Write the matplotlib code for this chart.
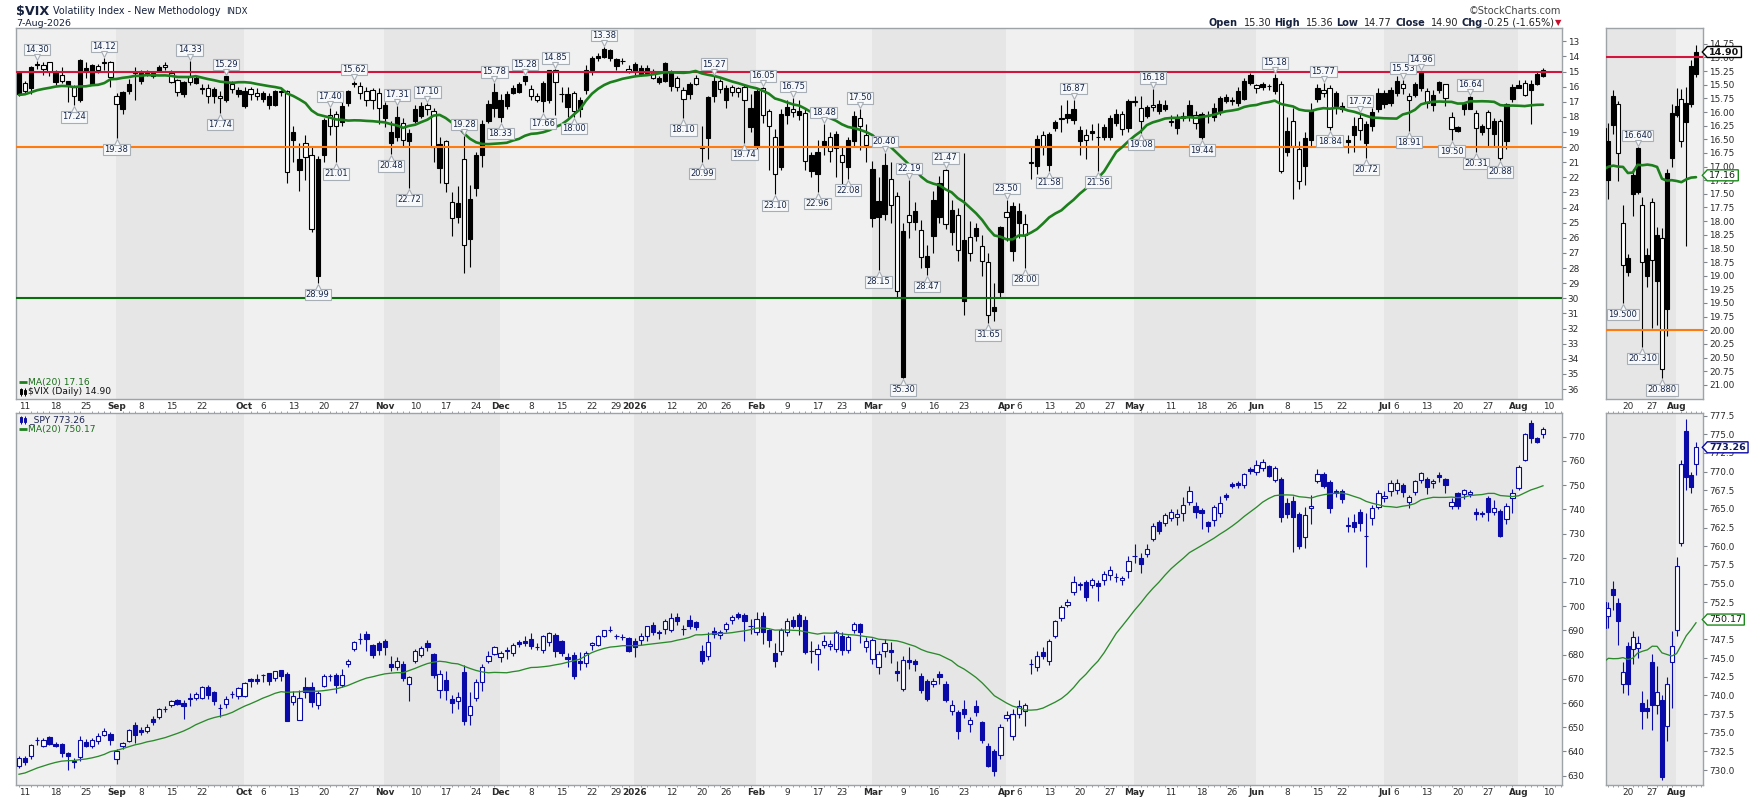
import numpy as np
import pandas as pd
import matplotlib
matplotlib.use('Agg')
import matplotlib.pyplot as plt
from matplotlib.patches import Rectangle, Polygon
from matplotlib.lines import Line2D
from matplotlib.transforms import offset_copy, IdentityTransform

plt.rcParams['font.family'] = 'DejaVu Sans'

# market holidays inside the window (bars are trading days only)
holidays = ['2025-09-01', '2025-11-27', '2025-12-25', '2026-01-01', '2026-01-19',
            '2026-02-16', '2026-04-03', '2026-05-25', '2026-06-19', '2026-07-03']

# ---------------- $VIX daily bars, 8-Aug-2025 .. 7-Aug-2026 ----------------
vix_open = [16.5, 15.76, 16.1, 14.55, 14.6, 14.4, 15.7, 15.2, 15.9, 16.0,
            16.86, 14.95, 15.8, 14.65, 14.4, 14.35, 16.64, 17.5, 16.3, 15.1,
            15.6, 15.1, 15.3, 14.95, 14.55, 15.1, 15.58, 16.48, 15.3, 15.75,
            16.1, 16.1, 16.65, 16.6, 16.9, 15.85, 16.5, 17.3, 16.15, 16.4,
            16.8, 17.2, 17.2, 16.3, 16.3, 19.5, 21.5, 19.7, 20.5, 28.5,
            20.5, 17.9, 17.8, 18.35, 17.1, 15.85, 15.97, 16.3, 16.25, 16.4,
            18.1, 19.7, 19.3, 18.4, 19.6, 18.3, 17.96, 17.2, 17.6, 21.4,
            19.6, 23.6, 24.6, 20.8, 26.1, 22.7, 20.55, 18.25, 17.4, 18.0,
            17.3, 16.4, 16.35, 15.6, 16.15, 16.6, 16.95, 16.9, 14.87, 16.5,
            17.35, 16.45, 17.5, 16.2, 14.9, 14.1, 14.05, 14.1, 14.65, 14.3,
            14.8, 15.0, 15.15, 15.1, 14.95, 15.7, 15.6, 15.95, 15.4, 16.25,
            16.5, 15.4, 19.9, 19.4, 16.6, 15.65, 16.9, 16.05, 16.1, 16.05,
            18.7, 20.0, 16.1, 17.6, 19.3, 21.3, 17.9, 17.45, 17.9, 17.75,
            21.55, 21.8, 19.85, 19.3, 20.05, 20.5, 21.3, 19.6, 18.05, 19.2,
            24.7, 24.6, 24.45, 22.1, 23.25, 35.2, 24.46, 24.95, 25.5, 27.9,
            25.9, 24.6, 21.5, 25.6, 24.5, 30.15, 25.95, 25.85, 26.55, 27.6,
            30.85, 29.55, 24.3, 26.85, 25.0, 25.1, 21.0, 21.25, 19.2, 21.2,
            18.75, 18.1, 18.05, 18.2, 19.6, 19.2, 19.05, 19.3, 19.3, 19.3,
            18.4, 17.8, 18.75, 16.95, 17.4, 17.95, 17.2, 17.6, 17.45, 18.25,
            18.75, 18.1, 17.96, 17.9, 19.3, 17.95, 18.0, 17.6, 16.97, 16.85,
            17.1, 16.8, 15.75, 15.9, 16.0, 15.95, 16.3, 15.85, 20.3, 18.25,
            20.1, 21.25, 19.55, 16.8, 16.2, 16.1, 17.25, 17.5, 19.65, 19.2,
            18.1, 19.7, 18.6, 17.5, 17.15, 17.1, 16.4, 15.8, 16.6, 16.55,
            16.1, 16.3, 17.24, 16.23, 15.85, 18.03, 18.94, 17.51, 17.47, 17.71,
            19.01, 17.65, 19.1, 18.3, 19.61, 16.84, 16.06, 15.77, 16.19, 15.85,
            15.30]
vix_high = [16.6, 16.5, 16.5, 14.8, 15.2, 15.3, 15.9, 15.76, 17.0, 17.24,
            17.0, 15.4, 15.9, 15.1, 14.9, 16.0, 19.38, 17.8, 16.5, 16.9,
            15.8, 15.3, 15.4, 15.0, 14.9, 15.75, 16.6, 16.7, 15.9, 15.8,
            16.5, 17.1, 17.1, 17.74, 17.0, 16.4, 16.7, 17.4, 16.9, 16.9,
            17.0, 17.5, 17.3, 16.6, 22.4, 21.0, 22.9, 22.2, 25.6, 28.99,
            21.0, 19.2, 21.01, 18.6, 17.3, 16.0, 16.8, 17.3, 17.5, 18.5,
            18.7, 20.48, 19.6, 19.9, 22.72, 18.4, 18.1, 17.9, 21.0, 22.4,
            23.0, 25.9, 25.0, 28.3, 27.9, 23.2, 21.3, 18.4, 18.0, 18.33,
            17.5, 16.5, 16.4, 15.9, 16.9, 17.0, 17.66, 17.1, 17.9, 17.0,
            18.0, 18.0, 18.0, 16.5, 15.2, 14.3, 14.1, 14.3, 14.9, 14.5,
            15.1, 15.3, 15.3, 15.2, 15.5, 15.8, 15.7, 16.3, 16.3, 18.10,
            16.8, 15.9, 20.99, 20.8, 17.0, 16.4, 17.4, 16.6, 16.7, 19.74,
            19.0, 20.2, 18.4, 21.5, 23.10, 21.5, 18.5, 18.0, 18.2, 21.5,
            22.0, 22.96, 20.5, 21.0, 22.0, 22.5, 22.08, 20.0, 20.2, 21.0,
            25.3, 28.15, 24.8, 25.0, 30.0, 35.30, 26.0, 25.5, 28.0, 28.47,
            27.0, 25.0, 25.4, 26.5, 27.5, 31.1, 27.5, 26.2, 28.5, 31.65,
            31.5, 30.0, 26.2, 27.5, 26.0, 28.0, 22.1, 21.8, 20.5, 21.58,
            18.9, 19.0, 18.4, 18.5, 20.5, 20.8, 19.5, 21.56, 19.5, 19.5,
            18.6, 19.2, 19.0, 17.3, 19.08, 18.1, 17.6, 17.8, 17.6, 18.6,
            19.1, 18.3, 18.3, 18.8, 19.44, 18.4, 18.3, 17.9, 17.1, 17.2,
            17.3, 16.9, 15.9, 16.4, 16.2, 16.2, 16.5, 21.7, 20.6, 23.4,
            22.8, 22.5, 20.0, 17.0, 16.7, 18.84, 17.8, 17.7, 20.4, 20.3,
            19.5, 20.72, 18.9, 17.7, 17.4, 17.3, 16.6, 16.5, 18.91, 16.7,
            16.3, 17.4, 17.6, 16.4, 17.27, 19.50, 19.0, 17.9, 17.5, 20.31,
            19.2, 19.96, 19.9, 20.88, 20.1, 17.0, 16.1, 16.65, 18.46, 15.9,
            15.36]
vix_low = [15.0, 15.65, 14.65, 14.30, 14.4, 14.35, 14.9, 14.7, 15.6, 15.9,
           14.2, 14.4, 14.5, 14.5, 14.12, 14.3, 16.4, 16.3, 15.5, 14.7,
           14.9, 14.9, 14.95, 14.6, 14.4, 14.9, 15.5, 15.6, 14.33, 15.3,
           15.8, 15.8, 16.0, 16.3, 15.29, 15.6, 16.0, 16.0, 16.0, 16.1,
           16.3, 16.4, 16.2, 16.2, 16.2, 18.6, 19.7, 19.2, 20.0, 20.6,
           18.1, 17.40, 17.6, 17.0, 16.2, 15.62, 15.7, 16.0, 16.1, 16.1,
           17.0, 18.3, 17.31, 18.1, 18.8, 17.2, 17.0, 17.10, 17.4, 19.3,
           19.5, 23.0, 22.6, 19.28, 22.5, 20.3, 18.2, 16.9, 15.78, 16.5,
           16.3, 15.9, 15.7, 15.28, 15.9, 16.4, 15.6, 14.88, 14.85, 16.0,
           16.0, 16.3, 16.7, 14.6, 14.0, 13.8, 13.38, 13.5, 14.1, 14.1,
           14.6, 14.4, 14.6, 14.6, 14.8, 15.3, 14.4, 14.9, 15.3, 16.0,
           15.7, 15.2, 18.6, 16.6, 15.27, 15.5, 15.9, 15.9, 16.0, 15.9,
           16.5, 16.1, 16.05, 17.5, 18.8, 17.5, 16.9, 16.75, 16.9, 17.5,
           20.3, 19.5, 18.48, 19.0, 18.9, 20.0, 19.3, 17.6, 17.50, 18.5,
           20.9, 22.0, 20.40, 21.0, 23.0, 25.0, 22.19, 23.6, 24.8, 26.5,
           22.9, 21.9, 21.47, 23.5, 24.0, 20.4, 24.9, 25.0, 25.8, 27.0,
           29.0, 25.2, 23.50, 23.6, 23.7, 24.4, 20.0, 19.2, 18.9, 19.0,
           18.2, 17.2, 16.9, 16.87, 18.6, 18.8, 18.5, 18.4, 18.5, 17.9,
           17.5, 17.6, 16.8, 16.6, 16.6, 17.2, 16.18, 16.9, 16.9, 17.9,
           17.8, 17.7, 16.9, 17.6, 17.7, 17.6, 17.1, 16.6, 16.5, 16.7,
           16.0, 15.4, 15.1, 15.8, 15.7, 15.8, 15.18, 15.6, 18.0, 17.4,
           19.6, 19.0, 17.1, 15.8, 15.77, 15.9, 16.3, 17.0, 19.2, 18.0,
           17.72, 18.3, 17.4, 16.1, 16.2, 16.0, 15.3, 15.53, 16.4, 15.7,
           14.96, 16.1, 16.2, 15.6, 15.8, 17.7, 18.6, 17.05, 16.64, 17.55,
           18.5, 17.57, 18.1, 18.13, 17.05, 15.85, 15.56, 15.57, 15.55, 15.05,
           14.77]
vix_close = [15.1, 16.3, 14.7, 14.49, 14.83, 15.0, 15.0, 15.6, 15.65, 16.6,
             14.21, 14.75, 14.6, 14.87, 14.43, 15.36, 17.14, 16.35, 15.8, 15.0,
             15.0, 15.2, 15.1, 14.7, 14.72, 15.7, 16.37, 15.69, 15.7, 15.4,
             16.15, 16.65, 16.15, 16.75, 15.3, 16.15, 16.25, 16.3, 16.5, 16.65,
             16.4, 16.65, 16.3, 16.35, 21.66, 19.0, 20.8, 20.65, 25.4, 20.78,
             18.23, 18.6, 18.6, 17.3, 16.3, 15.79, 16.42, 16.9, 16.9, 17.4,
             17.2, 19.0, 18.0, 19.5, 19.08, 17.5, 17.3, 17.5, 20.0, 19.8,
             22.4, 24.7, 23.7, 26.5, 23.4, 20.5, 18.5, 17.15, 16.35, 16.85,
             16.5, 16.1, 15.8, 15.3, 16.6, 16.85, 15.75, 14.9, 15.7, 16.5,
             16.5, 17.6, 16.85, 14.9, 14.1, 14.0, 13.5, 13.6, 14.2, 14.33,
             15.0, 14.5, 14.75, 14.75, 15.4, 15.45, 14.45, 15.05, 16.0, 16.8,
             15.8, 15.8, 20.09, 16.7, 15.6, 16.15, 16.1, 16.35, 16.35, 16.9,
             17.4, 16.3, 17.9, 18.6, 21.8, 17.8, 17.35, 17.7, 17.6, 20.9,
             20.55, 20.3, 19.6, 20.25, 19.1, 21.0, 19.55, 17.95, 18.6, 19.85,
             21.45, 23.55, 21.15, 23.8, 29.5, 25.55, 24.95, 24.2, 27.3, 27.2,
             23.5, 22.35, 25.1, 24.15, 26.8, 26.15, 27.0, 25.35, 27.5, 31.1,
             30.6, 25.3, 24.6, 23.9, 24.2, 25.8, 21.05, 19.45, 19.9, 19.15,
             18.35, 18.15, 17.8, 17.5, 18.85, 19.5, 18.9, 19.35, 18.7, 18.05,
             17.8, 18.8, 16.95, 16.99, 18.3, 17.35, 17.35, 17.15, 17.2, 18.35,
             18.1, 17.95, 17.23, 18.4, 17.8, 17.97, 17.4, 16.75, 16.7, 16.97,
             16.3, 15.6, 15.25, 16.1, 15.85, 15.98, 15.4, 21.55, 18.95, 19.9,
             22.25, 19.4, 17.6, 16.1, 16.4, 18.7, 16.45, 17.3, 19.5, 18.6,
             18.85, 18.45, 17.65, 16.4, 16.4, 16.2, 15.6, 16.1, 16.85, 15.8,
             15.05, 17.1, 16.54, 15.71, 16.76, 18.81, 18.68, 17.15, 16.66, 18.74,
             18.62, 18.71, 18.25, 20.71, 17.12, 16.02, 15.89, 16.54, 15.83, 15.15,
             14.90]
# 19 closes before the first bar, only used to start the MA(20)
vix_prior = [17.20, 17.38, 17.16, 16.52, 16.41, 16.65, 16.50, 15.37, 15.39, 14.93,
             15.03, 15.98, 15.48, 16.72, 20.38, 17.52, 17.85, 16.77, 16.57]

# ---------------- _SPY daily bars ----------------
spy_open = [633.9, 637.3, 638.0, 644.7, 642.4, 646.0, 643.2, 643.1, 639.4, 636.2,
            637.6, 643.9, 642.1, 644.2, 646.9, 647.4, 637.0, 642.1, 644.2, 651.1,
            649.0, 648.3, 653.4, 654.3, 657.5, 659.3, 661.4, 660.0, 662.1, 662.1,
            662.1, 666.6, 664.4, 658.0, 659.6, 663.6, 662.8, 662.8, 670.1, 670.0,
            671.5, 672.4, 670.3, 673.5, 672.0, 660.3, 653.2, 666.6, 666.6, 659.3,
            667.2, 671.0, 671.7, 667.6, 676.3, 682.5, 686.5, 688.7, 683.8, 684.8,
            685.5, 676.1, 674.9, 676.3, 667.9, 677.2, 679.7, 684.8, 680.3, 665.3,
            669.4, 661.8, 660.7, 672.7, 654.9, 662.1, 668.5, 677.2, 680.4, 678.9,
            681.8, 680.7, 685.2, 685.5, 686.4, 683.1, 682.1, 685.1, 688.3, 685.5,
            679.0, 679.7, 677.5, 676.6, 683.8, 683.8, 687.6, 690.2, 687.7, 687.4,
            686.7, 685.5, 686.2, 687.6, 692.1, 689.5, 690.6, 690.3, 695.6, 690.6,
            694.1, 693.3, 681.4, 679.3, 689.6, 688.2, 690.6, 694.2, 696.8, 696.4,
            692.0, 689.3, 695.8, 690.3, 680.7, 681.4, 689.3, 694.5, 696.3, 694.2,
            681.3, 680.3, 683.8, 683.4, 682.3, 687.6, 681.8, 690.0, 692.8, 683.0,
            678.3, 674.9, 681.4, 681.8, 673.1, 666.0, 677.9, 677.2, 671.0, 669.0,
            668.0, 672.1, 668.0, 656.6, 656.2, 657.7, 651.3, 658.7, 652.0, 642.4,
            640.0, 638.7, 653.8, 646.3, 655.6, 656.9, 676.0, 674.8, 681.1, 677.2,
            687.6, 695.1, 700.6, 705.7, 708.9, 709.9, 708.9, 709.6, 710.7, 712.7,
            712.0, 710.7, 714.4, 720.9, 719.8, 721.6, 727.9, 734.6, 734.5, 736.3,
            736.7, 738.6, 743.2, 741.5, 739.7, 734.6, 735.6, 738.6, 745.8, 750.45,
            750.7, 750.0, 756.5, 755.3, 756.9, 757.9, 752.1, 752.4, 742.7, 743.4,
            738.1, 728.4, 740.4, 751.7, 754.6, 751.3, 747.6, 747.6, 733.3, 734.9,
            738.75, 728.9, 736.3, 740.8, 744.5, 747.7, 748.0, 749.9, 743.2, 747.0,
            752.1, 752.5, 750.7, 754.2, 752.4, 741.5, 746.6, 746.2, 746.3, 739.0,
            738.3, 744.5, 738.75, 739.4, 735.9, 744.5, 748.8, 760.4, 775.5, 769.6,
            771.0]
spy_high = [638.0, 638.2, 643.0, 645.9, 645.6, 646.5, 643.9, 643.5, 639.8, 637.5,
            646.5, 645.0, 645.5, 647.5, 649.5, 648.0, 641.0, 644.0, 649.3, 652.2,
            650.0, 651.2, 654.6, 658.0, 658.8, 661.2, 661.8, 661.3, 664.1, 664.4,
            667.2, 667.5, 665.0, 659.8, 663.0, 665.0, 666.8, 668.8, 670.3, 672.0,
            672.2, 672.6, 673.4, 673.8, 673.0, 665.0, 665.5, 670.8, 668.5, 665.0,
            672.0, 672.2, 672.6, 674.0, 678.0, 685.6, 688.8, 689.7, 684.5, 685.5,
            686.5, 679.5, 678.9, 677.5, 671.0, 682.5, 683.4, 686.0, 680.8, 673.6,
            673.2, 663.5, 664.5, 675.6, 664.6, 670.0, 676.0, 681.6, 683.6, 681.3,
            683.2, 685.0, 685.9, 687.5, 689.0, 685.0, 688.3, 689.5, 689.0, 685.9,
            680.7, 681.0, 681.0, 681.4, 685.3, 688.3, 690.3, 691.7, 688.5, 688.5,
            687.2, 687.0, 689.0, 692.0, 693.6, 690.3, 694.6, 697.0, 697.0, 692.4,
            696.2, 693.8, 683.8, 689.3, 691.5, 690.3, 693.5, 696.2, 697.8, 697.3,
            694.8, 697.4, 697.5, 690.6, 684.8, 691.0, 695.0, 696.0, 697.0, 696.0,
            685.5, 684.5, 688.0, 686.0, 690.0, 689.5, 688.0, 693.5, 693.2, 687.3,
            687.0, 681.5, 686.5, 685.2, 677.2, 679.5, 683.1, 678.0, 672.3, 670.0,
            670.4, 673.3, 669.2, 661.4, 657.0, 661.4, 654.2, 661.4, 652.7, 643.5,
            641.0, 651.2, 656.8, 657.6, 661.2, 660.2, 678.0, 681.3, 683.0, 686.5,
            694.3, 700.5, 703.0, 712.5, 710.2, 711.0, 711.5, 711.0, 714.7, 716.5,
            713.6, 712.3, 720.6, 725.5, 722.0, 725.5, 734.5, 735.8, 738.5, 740.0,
            740.3, 745.3, 749.5, 743.0, 740.5, 735.0, 741.8, 745.5, 746.8, 751.5,
            751.8, 754.9, 757.5, 760.3, 760.6, 758.3, 757.9, 753.5, 744.5, 745.5,
            739.0, 741.0, 746.0, 756.5, 755.3, 752.0, 748.5, 748.3, 737.0, 738.0,
            740.0, 738.4, 742.0, 748.0, 747.5, 752.0, 752.5, 750.8, 746.0, 752.0,
            755.5, 753.5, 752.5, 755.3, 753.0, 744.5, 747.2, 748.6, 748.0, 740.6,
            739.5, 745.5, 744.0, 740.0, 742.5, 748.6, 758.5, 771.6, 777.0, 770.0,
            774.0]
spy_low = [633.3, 634.3, 637.0, 642.8, 641.7, 642.5, 641.7, 637.7, 632.5, 633.3,
           636.0, 641.8, 641.5, 643.0, 646.2, 642.8, 634.9, 641.0, 644.0, 643.5,
           647.0, 647.5, 651.0, 653.5, 656.5, 658.5, 659.0, 653.6, 658.7, 661.4,
           661.5, 661.5, 659.0, 654.2, 658.0, 662.0, 661.6, 662.3, 666.8, 668.0,
           668.5, 667.3, 669.0, 669.0, 652.4, 659.0, 653.0, 662.0, 658.4, 657.7,
           666.5, 669.0, 664.2, 666.7, 675.0, 681.4, 684.5, 681.3, 678.8, 680.0,
           679.8, 673.4, 673.5, 669.0, 661.0, 676.5, 679.0, 681.7, 670.3, 661.9,
           661.2, 655.8, 657.4, 651.0, 650.8, 661.0, 664.8, 676.4, 680.0, 676.9,
           678.2, 679.4, 683.0, 683.5, 682.5, 682.0, 680.5, 683.6, 679.0, 679.5,
           675.0, 670.0, 673.5, 675.0, 682.0, 683.5, 687.3, 689.3, 686.3, 686.0,
           681.0, 679.2, 684.0, 685.8, 688.0, 686.6, 688.4, 689.5, 692.1, 688.3,
           690.5, 690.0, 676.2, 677.6, 687.0, 686.6, 689.2, 692.8, 694.6, 685.6,
           688.6, 688.3, 684.4, 683.3, 675.0, 679.8, 687.6, 691.0, 688.0, 680.3,
           676.5, 673.8, 682.7, 682.0, 681.0, 680.0, 680.8, 689.0, 685.0, 681.0,
           676.0, 672.0, 679.0, 676.4, 669.0, 665.0, 674.0, 673.3, 664.0, 660.8,
           666.8, 668.0, 660.4, 655.2, 645.3, 653.8, 648.0, 654.5, 643.5, 633.5,
           629.8, 637.0, 652.5, 644.8, 654.0, 650.4, 672.0, 673.2, 678.3, 675.8,
           686.7, 693.7, 699.6, 704.5, 706.7, 702.3, 707.6, 702.3, 708.9, 711.0,
           710.0, 708.6, 711.8, 718.0, 713.8, 720.4, 727.0, 730.0, 733.0, 735.0,
           733.5, 735.0, 742.0, 736.5, 732.0, 730.5, 733.3, 737.0, 744.0, 748.7,
           748.8, 748.7, 754.5, 754.0, 755.8, 753.3, 751.5, 734.6, 736.3, 722.5,
           723.6, 724.0, 734.0, 750.8, 749.0, 738.5, 745.3, 742.6, 730.6, 730.6,
           731.0, 716.3, 733.5, 740.0, 743.0, 745.5, 746.5, 745.0, 740.5, 746.0,
           750.8, 746.5, 749.0, 751.5, 746.8, 740.3, 740.0, 744.2, 745.0, 735.5,
           737.0, 735.3, 737.5, 728.6, 733.9, 738.3, 748.0, 760.0, 767.5, 767.2,
           769.5]
spy_close = [637.3, 635.6, 642.5, 644.9, 644.6, 643.2, 642.4, 639.4, 638.0, 635.5,
             644.9, 642.1, 644.9, 646.5, 648.6, 644.9, 640.1, 643.5, 648.7, 646.9,
             647.9, 650.1, 652.0, 657.7, 657.6, 660.7, 659.8, 658.7, 661.7, 663.7,
             666.6, 663.5, 660.7, 658.1, 661.7, 663.7, 666.2, 668.3, 669.0, 669.0,
             671.7, 669.0, 673.1, 671.0, 652.7, 662.8, 662.1, 664.4, 660.3, 664.2,
             671.0, 671.1, 667.6, 671.7, 677.2, 685.1, 686.6, 686.6, 679.7, 681.8,
             683.0, 674.9, 677.3, 670.3, 670.6, 681.4, 682.8, 683.0, 671.7, 672.0,
             665.5, 660.0, 662.4, 652.4, 658.6, 668.5, 674.8, 679.3, 683.0, 680.5,
             681.3, 683.8, 684.4, 684.8, 683.4, 683.2, 687.6, 689.0, 681.4, 680.7,
             678.4, 671.0, 676.6, 680.7, 684.8, 687.6, 690.0, 690.3, 687.6, 687.2,
             681.7, 683.0, 687.5, 691.7, 689.3, 688.8, 693.8, 695.1, 693.8, 690.5,
             692.0, 691.3, 677.2, 685.1, 688.7, 689.3, 692.6, 695.6, 695.6, 693.8,
             691.9, 694.9, 689.3, 685.9, 677.2, 690.3, 693.7, 692.0, 691.7, 681.0,
             681.4, 682.5, 685.7, 684.2, 689.2, 682.1, 687.2, 692.8, 689.2, 685.8,
             686.2, 680.3, 685.0, 681.0, 672.4, 677.9, 676.9, 676.2, 665.5, 661.7,
             669.0, 670.6, 661.1, 659.3, 648.3, 655.5, 652.8, 656.5, 644.9, 633.9,
             631.8, 650.0, 655.0, 655.6, 658.7, 659.0, 676.3, 679.6, 679.3, 685.8,
             694.0, 699.5, 701.6, 709.9, 709.0, 703.6, 711.0, 708.2, 713.4, 714.8,
             711.9, 711.7, 718.5, 720.8, 717.5, 723.6, 733.3, 731.1, 737.65, 738.75,
             738.1, 742.0, 747.7, 738.75, 738.6, 733.2, 741.1, 742.5, 744.9, 749.75,
             750.0, 754.4, 756.0, 758.3, 759.4, 753.9, 756.9, 737.0, 738.1, 736.7,
             725.0, 737.65, 741.5, 754.6, 749.6, 740.7, 746.6, 744.25, 733.4, 732.8,
             734.2, 729.0, 740.7, 746.6, 745.6, 751.0, 751.0, 747.3, 744.9, 751.6,
             754.9, 749.1, 751.7, 753.5, 750.0, 743.2, 741.5, 747.8, 747.0, 737.9,
             737.9, 738.75, 740.4, 729.1, 741.5, 746.6, 757.3, 771.0, 769.3, 767.9,
             773.26]
spy_prior = [624.81, 622.14, 624.22, 628.04, 627.58, 628.77, 628.86, 634.21, 634.42, 637.10,
             636.94, 635.26, 634.46, 632.08, 621.72, 631.17, 627.97, 632.78, 632.25]

# swing annotations on the VIX panel (bar index, value)
vix_top_idx = [3, 14, 28, 34, 51, 55, 62, 67, 73, 78, 83, 88, 96, 114, 122, 127, 132, 138,
               142, 146, 152, 162, 173, 186, 206, 214, 220, 227, 230, 238]
vix_top_val = [14.30, 14.12, 14.33, 15.29, 17.40, 15.62, 17.31, 17.10, 19.28, 15.78, 15.28,
               14.85, 13.38, 15.27, 16.05, 16.75, 18.48, 17.50, 20.40, 22.19, 21.47, 23.50,
               16.87, 16.18, 15.18, 15.77, 17.72, 15.53, 14.96, 16.64]
vix_bot_idx = [9, 16, 33, 49, 52, 61, 64, 79, 86, 91, 109, 112, 119, 124, 131, 136, 141, 145,
               149, 159, 165, 169, 177, 184, 194, 215, 221, 228, 235, 239, 243]
vix_bot_val = [17.24, 19.38, 17.74, 28.99, 21.01, 20.48, 22.72, 18.33, 17.66, 18.00, 18.10,
               20.99, 19.74, 23.10, 22.96, 22.08, 28.15, 35.30, 28.47, 31.65, 28.00, 21.58,
               21.56, 19.08, 19.44, 18.84, 20.72, 18.91, 19.50, 20.31, 20.88]
zoom_top_idx, zoom_top_val = [238], [16.640]
zoom_bot_idx, zoom_bot_val = [235, 239, 243], [19.500, 20.310, 20.880]

vix_ma_last, spy_ma_last = 17.16, 750.17
vix_levels = [15, 20, 30]
vix_level_colors = ['#d3143c', '#ff7b10', '#08700a']

# ---------------- layout (pixels of the 1750x800 canvas) ----------------
W, H = 1750, 800
LIGHT, DARK = '#f0f0f0', '#e6e6e6'
SPINE = '#9ea3a8'
TXT = '#2a2a2a'
BLUE = '#0a0aa8'
MA_GREEN = '#1c7f1c'

fig = plt.figure(figsize=(W / 100, H / 100), dpi=100)
renderer = fig.canvas.get_renderer()


def add_ax(x0, y0, x1, y1):
    return fig.add_axes([x0 / W, 1 - y1 / H, (x1 - x0) / W, (y1 - y0) / H])


ax_vix = add_ax(16, 28, 1562.3, 399)
ax_spy = add_ax(16, 413, 1562.3, 785)
ax_vixz = add_ax(1606, 28, 1703.3, 399)
ax_spyz = add_ax(1606, 413, 1703.3, 785)

n = len(vix_close)
days = pd.bdate_range('2025-08-08', '2026-08-14')
days = days[~days.isin(pd.to_datetime(holidays))]
x = np.arange(n)

vo, vh, vl, vc = map(np.array, (vix_open, vix_high, vix_low, vix_close))
so, sh, sl, sc = map(np.array, (spy_open, spy_high, spy_low, spy_close))
vix_ma = pd.Series(np.r_[vix_prior, vc]).rolling(20).mean().values[len(vix_prior):]
spy_ma = pd.Series(np.r_[spy_prior, sc]).rolling(20).mean().values[len(spy_prior):]

# month starts / week starts for shading and date labels
month_start, week_start = [], []
for i in range(1, len(days)):
    d, p = days[i], days[i - 1]
    if d.month != p.month:
        month_start.append(i)
    elif d.weekday() < p.weekday():
        week_start.append(i)


def date_ticks(px_per_bar, last):
    pos, lab, bold = [], [], []
    mlab = {i: (str(days[i].year) if days[i].month == 1 else days[i].strftime('%b')) for i in month_start}
    for i in sorted(month_start + week_start):
        if i > last:
            continue
        if i in mlab:
            pos.append(i); lab.append(mlab[i]); bold.append(True)
            continue
        s = str(days[i].day)
        clash = any(abs(i - m) * px_per_bar < 2.6 * (len(s) + len(t)) for m, t in mlab.items())
        if not clash:
            pos.append(i); lab.append(s); bold.append(False)
    return pos, lab, bold


def shade(ax):
    ax.set_facecolor(LIGHT)
    edges = month_start + [len(days)]
    for a, b in zip(edges[:-1], edges[1:]):
        if days[a].month % 2 == 1:
            ax.axvspan(a - 0.15, b - 0.15, color=DARK, lw=0, zorder=0)


def candles(ax, o, h, l, c, color, width, lw):
    ax.vlines(x, l, h, color=color, lw=lw, zorder=3)
    for xi, oi, ci in zip(x, o, c):
        lo, hi = min(oi, ci), max(oi, ci)
        up = ci > oi
        ax.add_patch(Rectangle((xi - width / 2, lo), width, max(hi - lo, 1e-6),
                               facecolor='white' if up else color, edgecolor=color,
                               lw=lw, zorder=4))


def style(ax, yticks, yfmt, px_per_bar, last, minor=False):
    shade(ax)
    for s in ax.spines.values():
        s.set_color(SPINE)
        s.set_linewidth(1.0)
    ax.yaxis.tick_right()
    ax.set_yticks(yticks)
    ax.set_yticklabels([yfmt % v for v in yticks])
    ax.tick_params(axis='y', direction='out', length=3, width=0.8, color='#80858b',
                   pad=1, labelsize=6.4, labelcolor=TXT)
    pos, lab, bold = date_ticks(px_per_bar, last)
    ax.set_xticks(pos)
    ax.set_xticklabels(lab)
    for t, b in zip(ax.get_xticklabels(), bold):
        t.set_fontweight('bold' if b else 'normal')
    ax.tick_params(axis='x', which='major', length=0, pad=2.2, labelsize=6.4, labelcolor=TXT)
    if minor:
        ax.set_xticks(np.arange(0, len(days)), minor=True)
        ax.tick_params(axis='x', which='minor', top=True, bottom=True, direction='out',
                       length=1.6, width=0.6, color='#8a8f95')


main_xlim = (-0.49, 253.17)
zoom_xlim = (231.5, 251.5)
limits = {ax_vix: (main_xlim, (36.66, 12.12)),
          ax_vixz: (zoom_xlim, (21.26, 14.46)),
          ax_spy: (main_xlim, (626.16, 779.79)),
          ax_spyz: (zoom_xlim, (727.99, 777.86))}

style(ax_vix, np.arange(13, 37), '%d', 6.096, len(days))
style(ax_vixz, np.arange(14.75, 21.01, 0.25), '%.2f', 4.865, n - 1)
style(ax_spy, np.arange(630, 771, 10), '%d', 6.096, len(days), minor=True)
style(ax_spyz, np.arange(730, 777.6, 2.5), '%.1f', 4.865, n - 1, minor=True)

for ax, w in ((ax_vix, 0.7), (ax_vixz, 0.82)):
    candles(ax, vo, vh, vl, vc, 'black', w, 0.8)
    for lev, col in zip(vix_levels, vix_level_colors):
        ax.axhline(lev, color=col, lw=1.5, zorder=4.5)
    ax.plot(x, vix_ma, color=MA_GREEN, lw=1.9, zorder=5, solid_capstyle='round')

for ax, w in ((ax_spy, 0.7), (ax_spyz, 0.82)):
    candles(ax, so, sh, sl, sc, BLUE, w, 0.8)
    ax.plot(x, spy_ma, color='#2b8a2b', lw=0.95, zorder=5)

# limits last: set_xticks would otherwise widen the view
for ax, (xl, yl) in limits.items():
    ax.set_xlim(*xl)
    ax.set_ylim(*yl)


def swing(ax, idx, vals, fmt, above):
    sgn = 1 if above else -1
    for i, v in zip(idx, vals):
        ax.annotate(fmt % v, xy=(i, v), xytext=(0, 7 * sgn), textcoords='offset pixels',
                    ha='center', va='bottom' if above else 'top', fontsize=6, color='#16264a',
                    bbox=dict(boxstyle='square,pad=0.15', fc='#f8f9fa', ec='#a7aeb6', lw=0.8),
                    zorder=12)
        ax.plot([i], [v], marker='v' if above else '^', ms=4, mfc='#f8f9fa', mec='#a7aeb6',
                mew=0.8, zorder=13,
                transform=offset_copy(ax.transData, fig=fig, x=0, y=4 * sgn, units='dots'))


swing(ax_vix, vix_top_idx, vix_top_val, '%.2f', True)
swing(ax_vix, vix_bot_idx, vix_bot_val, '%.2f', False)
swing(ax_vixz, zoom_top_idx, zoom_top_val, '%.3f', True)
swing(ax_vixz, zoom_bot_idx, zoom_bot_val, '%.3f', False)
for ax, (xl, yl) in limits.items():
    ax.set_xlim(*xl)
    ax.set_ylim(*yl)


# ---------------- value tags on the zoom panels ----------------
def tag(ax, value, text, edge, weight='normal', tcolor='#1a1a1a'):
    x0 = ax.transAxes.transform((1, 0))[0]
    y0 = ax.transData.transform((0, value))[1]
    t = fig.text(x0 + 6, y0, text, transform=IdentityTransform(), ha='left', va='center',
                 fontsize=6.8, fontweight=weight, color=tcolor, zorder=31)
    w = t.get_window_extent(renderer).width
    h = 11
    xl, xr = x0 + 4, x0 + 6 + w + 2
    fig.add_artist(Polygon([(x0 - 1, y0), (xl, y0 + h / 2), (xr, y0 + h / 2),
                            (xr, y0 - h / 2), (xl, y0 - h / 2)], closed=True,
                           transform=IdentityTransform(), fc='white', ec=edge, lw=1.0, zorder=30))


tag(ax_vixz, vix_close[-1], '%.2f' % vix_close[-1], 'black', 'bold', '#111111')
tag(ax_vixz, vix_ma_last, '%.2f' % vix_ma_last, '#1c8a1c')
tag(ax_spyz, spy_close[-1], '%.2f' % spy_close[-1], BLUE, 'bold', '#101a50')
tag(ax_spyz, spy_ma_last, '%.2f' % spy_ma_last, '#1c8a1c')


# ---------------- header and legends ----------------
def ftext(xp, yp, s, **kw):
    return fig.text(xp / W, 1 - yp / H, s, **kw)


def chain(xp, yp, parts, right=False):
    seq = list(reversed(parts)) if right else parts
    for s, kw, gap in seq:
        t = ftext(xp, yp, s, ha='right' if right else 'left', va='baseline', **kw)
        w = t.get_window_extent(renderer).width
        xp += -(w + gap) if right else (w + gap)


NAVY = '#16213d'
chain(16, 14.5, [('$VIX', dict(fontsize=9.2, fontweight='bold', color=NAVY), 4),
                 ('Volatility Index - New Methodology', dict(fontsize=6.9, color=NAVY), 5),
                 ('INDX', dict(fontsize=6.2, color=NAVY), 0)])
ftext(16, 26, '7-Aug-2026', fontsize=6.8, color=NAVY, va='baseline')
ftext(1561, 13.5, '\u00a9StockCharts.com', fontsize=7, color='#444444', ha='right', va='baseline')

b = dict(fontsize=7, fontweight='bold', color=NAVY)
r = dict(fontsize=7, color='#222222')
chain(1561, 25.5, [('Open', b, 3), ('15.30', r, 6), ('High', b, 3), ('15.36', r, 6),
                   ('Low', b, 3), ('14.77', r, 6), ('Close', b, 3), ('14.90', r, 6),
                   ('Chg', b, 3), ('-0.25 (-1.65%)', r, 2),
                   ('\u25bc', dict(fontsize=6, color='#c8102e'), 0)], right=True)


def fline(x0, x1, y0, y1, color, lw):
    fig.add_artist(Line2D([x0 / W, x1 / W], [1 - y0 / H, 1 - y1 / H], transform=fig.transFigure,
                          color=color, lw=lw, solid_capstyle='butt'))


def frect(x0, y0, w, h, fc, ec):
    fig.add_artist(Rectangle((x0 / W, 1 - (y0 + h) / H), w / W, h / H, transform=fig.transFigure,
                             fc=fc, ec=ec, lw=0.7))


def candle_icon(xp, yp, color):
    fline(xp + 1.5, xp + 1.5, yp - 4, yp + 4, color, 0.7)
    frect(xp + 0.2, yp - 2.5, 2.6, 4.5, color, color)
    fline(xp + 5.5, xp + 5.5, yp - 4, yp + 4, color, 0.7)
    frect(xp + 4.2, yp - 2, 2.6, 4, 'white', color)


fline(19, 27, 382, 382, MA_GREEN, 2.0)
ftext(28.5, 382, 'MA(20) 17.16', fontsize=6.6, color='#1a6e1a', va='center')
candle_icon(19.5, 392, 'black')
ftext(28, 392, '$VIX (Daily) 14.90', fontsize=6.6, color='#111111', va='center')

candle_icon(19.5, 419.5, BLUE)
ftext(29, 419.5, '_SPY 773.26', fontsize=6.6, color='#1c2450', va='center')
fline(19, 27, 429.3, 429.3, '#1c7f1c', 2.0)
ftext(28.5, 429.3, 'MA(20) 750.17', fontsize=6.6, color='#1a6e1a', va='center')

fig.savefig('out.png', dpi=100, facecolor='white')
